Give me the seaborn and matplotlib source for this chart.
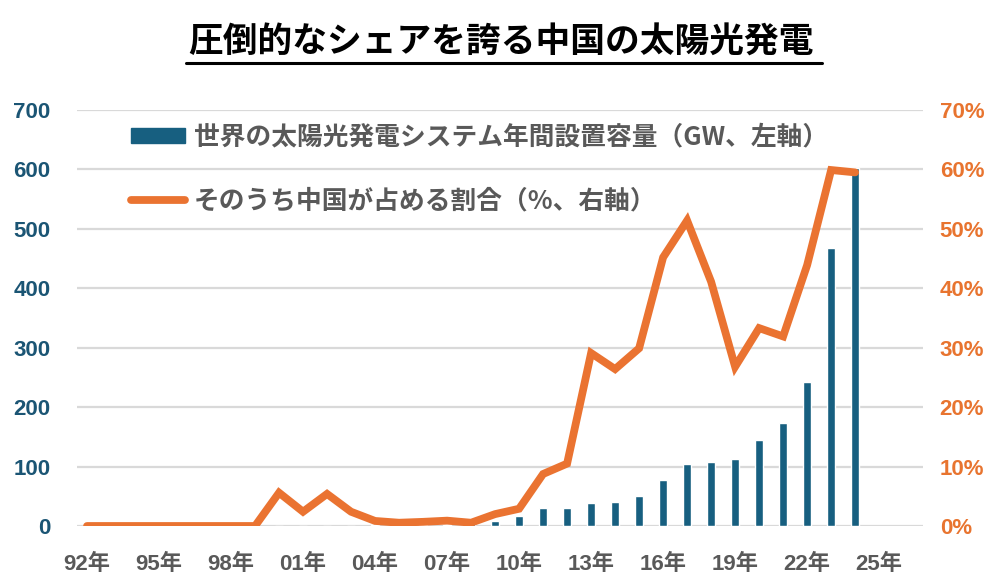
import matplotlib
matplotlib.use("Agg")
import matplotlib.pyplot as plt
import seaborn as sns
import numpy as np
import pandas as pd
from matplotlib.lines import Line2D
from matplotlib.patches import Rectangle

sns.set_theme(style="white")
plt.rcParams['font.family'] = ['Noto Sans CJK JP', 'DejaVu Sans']

years = list(range(1992, 2025))
# World annual PV installations (GW)
world_gw = [0.05, 0.06, 0.07, 0.08, 0.09, 0.1, 0.15, 0.2, 0.3, 0.3, 0.4, 0.6, 1.0, 1.4, 1.6,
            2.5, 6.5, 8.0, 17.5, 31, 29.5, 38, 40, 51, 77, 103.5, 108.5, 113.5, 145.5, 174, 241.5, 467, 603]
# China's share (%)
china_share = [0, 0, 0, 0, 0, 0, 0, 0, 5.6, 2.4, 5.4, 2.4, 0.85, 0.55, 0.7,
               0.9, 0.55, 2.0, 2.9, 8.75, 10.5, 29.1, 26.4, 29.9, 45.2, 51.4, 41.1, 26.8, 33.3, 31.9, 43.9, 59.9, 59.5]
xtick_years = list(range(1992, 2026, 3))
xtick_labels = [f"{y % 100:02d}年" for y in xtick_years]
left_ticks = [0, 100, 200, 300, 400, 500, 600, 700]
right_ticks = [0, 10, 20, 30, 40, 50, 60, 70]

title = "圧倒的なシェアを誇る中国の太陽光発電"
bar_label = "世界の太陽光発電システム年間設置容量（GW、左軸）"
line_label = "そのうち中国が占める割合（%、右軸）"

bar_color = "#175f80"
line_color = "#ea7331"
left_color = "#1b5574"
right_color = "#e8742f"
gray = "#595959"
tick_family = ['Liberation Sans', 'Noto Sans CJK JP']

df = pd.DataFrame({"year": years, "gw": world_gw, "share": china_share})

fig = plt.figure(figsize=(9.99, 5.83), dpi=100)
ax = fig.add_axes([0.077, 1 - 526 / 583, 0.924 - 0.077, (526 - 110) / 583])
ax2 = ax.twinx()

sns.barplot(data=df, x="year", y="gw", ax=ax, native_scale=True, color=bar_color,
            width=0.34, saturation=1, zorder=2)
sns.lineplot(data=df, x="year", y="share", ax=ax2, color=line_color, linewidth=5.6,
             solid_capstyle="round", solid_joinstyle="miter")

ax.set_zorder(1)
ax2.set_zorder(2)
ax2.patch.set_visible(False)
ax.patch.set_visible(True)
ax.patch.set_facecolor("white")

ax.set_xlim(1991.58, 2026.83)
ax.set_ylim(0, 700)
ax2.set_ylim(0, 70)

ax.set_yticks(left_ticks)
ax.set_yticklabels([str(v) for v in left_ticks])
ax2.set_yticks(right_ticks)
ax2.set_yticklabels([f"{v}%" for v in right_ticks])
ax.set_xticks(xtick_years)
ax.set_xticklabels(xtick_labels)

for lab in ax.get_yticklabels():
    lab.set_color(left_color); lab.set_fontweight("bold"); lab.set_fontsize(16); lab.set_family(tick_family)
for lab in ax2.get_yticklabels():
    lab.set_color(right_color); lab.set_fontweight("bold"); lab.set_fontsize(16); lab.set_family(tick_family)
for lab in ax.get_xticklabels():
    lab.set_color(gray); lab.set_fontweight("bold"); lab.set_fontsize(16); lab.set_family(tick_family)

ax.tick_params(axis="y", length=0, pad=19)
ax2.tick_params(axis="y", length=0, pad=12)
ax.tick_params(axis="x", length=0, pad=20)

ax.grid(axis="y", color="#d9d9d9", linewidth=1.6, zorder=0)
ax.set_axisbelow(True)
for a in (ax, ax2):
    for s in a.spines.values():
        s.set_visible(False)
ax.set_xlabel(""); ax.set_ylabel(""); ax2.set_ylabel(""); ax2.set_xlabel("")

handles = [Rectangle((0, 0), 1, 1, color=bar_color),
           Line2D([0], [0], color=line_color, linewidth=5.6, solid_capstyle="round")]
leg = ax2.legend(handles, [bar_label, line_label], loc="upper left",
                 bbox_to_anchor=(0.064, 0.968), frameon=False, handlelength=2.1,
                 handleheight=0.52, handletextpad=0.33, labelspacing=1.45, borderaxespad=0,
                 borderpad=0, prop={"size": 18.5, "weight": "bold"})
for t in leg.get_texts():
    t.set_color(gray)

fig.text(0.502, 1 - 42 / 583, title, ha="center", va="center", fontsize=25,
         fontweight="bold", color="black")
fig.add_artist(Line2D([186 / 999, 822 / 999], [1 - 63 / 583, 1 - 63 / 583], color="black",
                      linewidth=2.2, transform=fig.transFigure))

fig.savefig("out.png", dpi=100, facecolor="white")
